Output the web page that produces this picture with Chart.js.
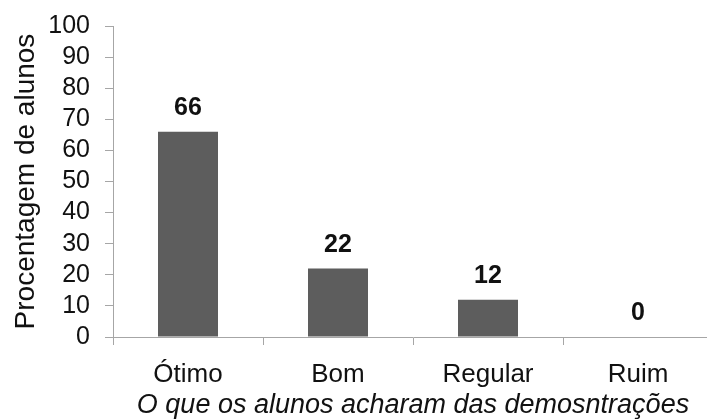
<!DOCTYPE html>
<html>
<head>
<meta charset="utf-8">
<script src="https://cdn.jsdelivr.net/npm/chart.js@4/dist/chart.umd.min.js"></script>
<style>
  html, body { margin: 0; padding: 0; background: #fff; overflow: hidden; }
</style>
</head>
<body>
<canvas id="avaliacao" width="713" height="419"></canvas>
<script>
// Avaliação das demonstrações --------------------------------------------------
const categorias = ["Ótimo", "Bom", "Regular", "Ruim"];
const percentuais = [66, 22, 12, 0];
const yTicks = [0, 10, 20, 30, 40, 50, 60, 70, 80, 90, 100];

const fonte = '"Liberation Sans", Arial, sans-serif';
const eixoCor = "#a6a6a6";

// valor em negrito acima de cada barra
const rotulos = {
  id: "rotulos",
  afterDatasetsDraw(chart) {
    const ctx = chart.ctx;
    const meta = chart.getDatasetMeta(0);
    ctx.save();
    ctx.font = "bold 25px " + fonte;
    ctx.fillStyle = "#111";
    ctx.textAlign = "center";
    ctx.textBaseline = "alphabetic";
    meta.data.forEach((bar, i) => {
      ctx.fillText(String(percentuais[i]), bar.x, bar.y - 17);
    });
    ctx.restore();
  },
};

const avaliacaoChart = new Chart(document.getElementById("avaliacao"), {
  type: "bar",
  data: {
    labels: categorias,
    datasets: [
      {
        data: percentuais,
        backgroundColor: "#5d5d5d",
        barPercentage: 1,
        categoryPercentage: 0.4,
      },
    ],
  },
  options: {
    responsive: false,
    animation: false,
    layout: { padding: { top: 26, left: 0, right: 0, bottom: 0 } },
    scales: {
      x: {
        afterFit(scale) { scale.height = 82; },
        grid: { drawOnChartArea: false, tickLength: 8, color: eixoCor },
        border: { color: eixoCor },
        ticks: { color: "#111", padding: 14, font: { family: fonte, size: 26 } },
        title: {
          display: true,
          text: "O que os alunos acharam das demosntrações",
          color: "#111",
          padding: 0,
          font: { family: fonte, size: 27, style: "italic", lineHeight: 1 },
        },
      },
      y: {
        min: 0,
        max: 100,
        afterFit(scale) {
          scale.width = 113;
          scale.paddingTop = 0;
          scale.paddingBottom = 0;
        },
        afterBuildTicks(scale) { scale.ticks = yTicks.map((v) => ({ value: v })); },
        grid: { drawOnChartArea: false, tickLength: 8, color: eixoCor },
        border: { color: eixoCor },
        ticks: { color: "#111", padding: 15, autoSkip: false, font: { family: fonte, size: 25 } },
        title: {
          display: true,
          text: "Procentagem de alunos",
          color: "#111",
          padding: { top: 9, bottom: 0 },
          font: { family: fonte, size: 28, lineHeight: 1.2 },
        },
      },
    },
    plugins: {
      legend: { display: false },
      tooltip: { enabled: false },
    },
  },
  plugins: [rotulos],
});
//---------------------------------------------------------------------------------
</script>
</body>
</html>
